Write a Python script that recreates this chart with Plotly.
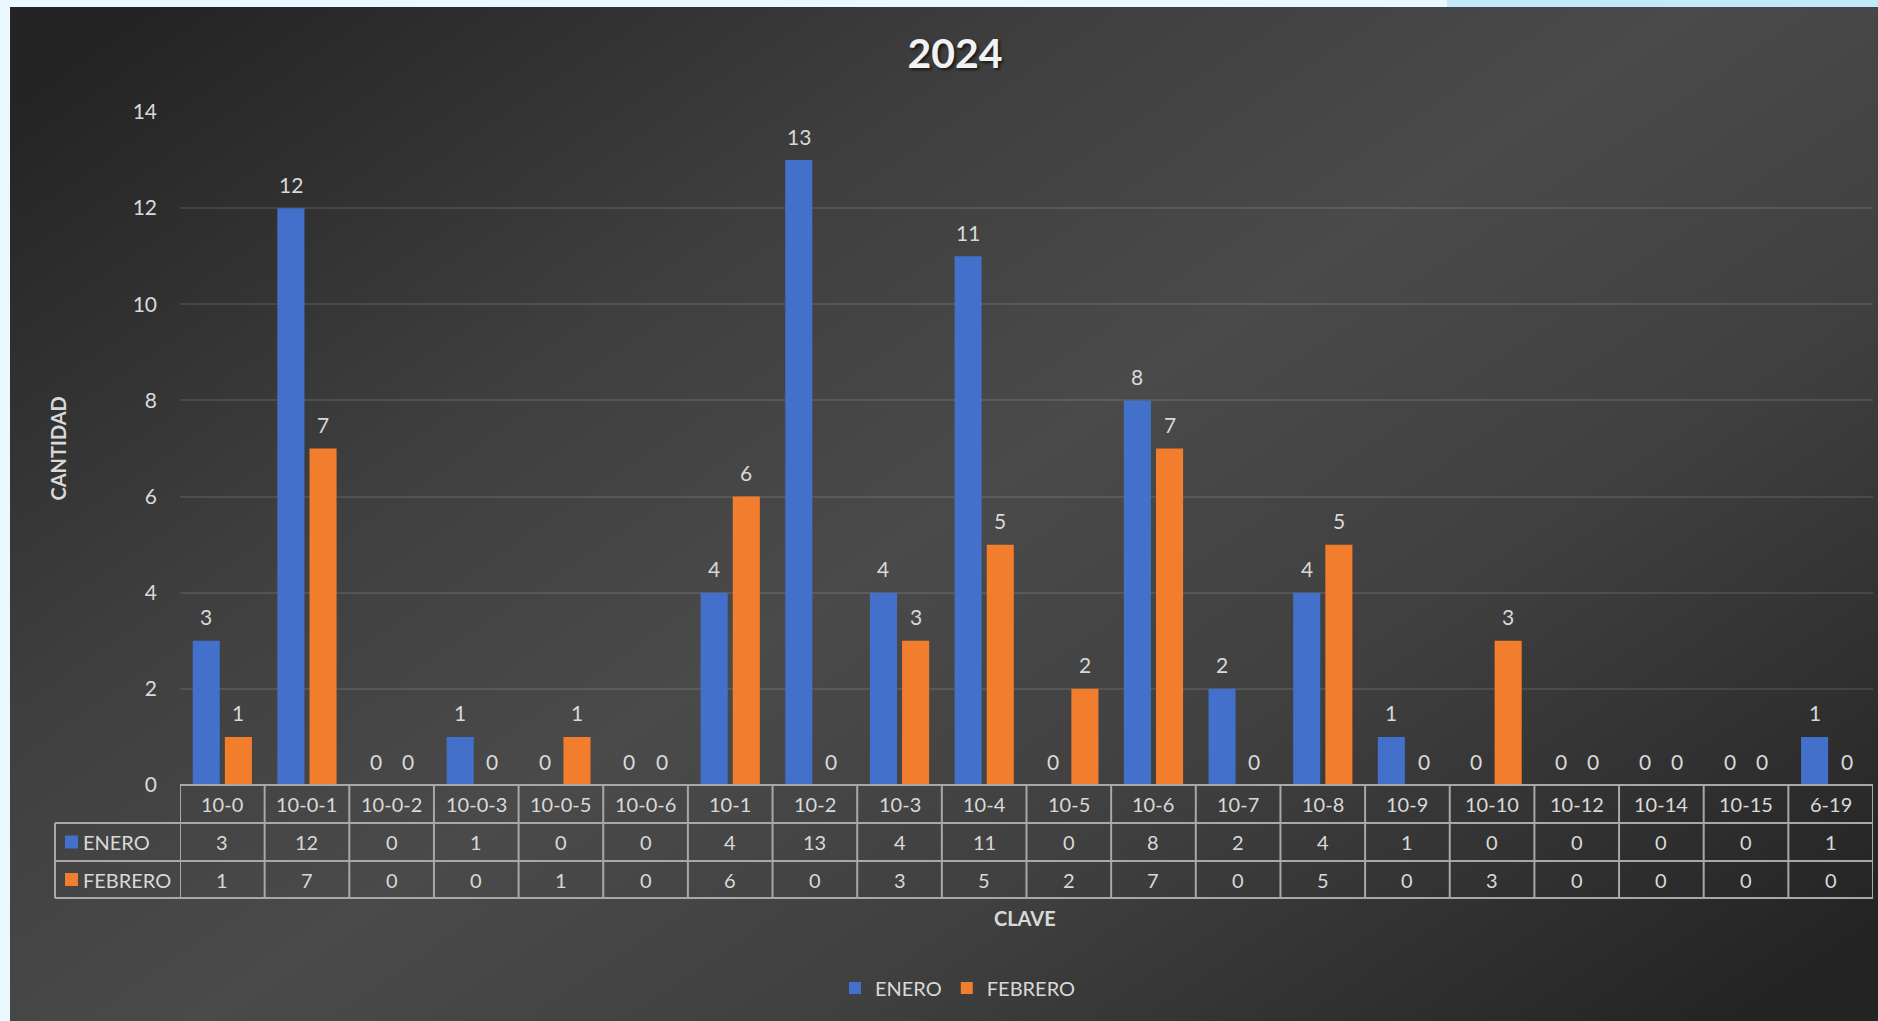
import base64
import plotly.graph_objects as go

# data
claves = ['10-0', '10-0-1', '10-0-2', '10-0-3', '10-0-5', '10-0-6', '10-1', '10-2', '10-3', '10-4',
          '10-5', '10-6', '10-7', '10-8', '10-9', '10-10', '10-12', '10-14', '10-15', '6-19']
enero = [3, 12, 0, 1, 0, 0, 4, 13, 4, 11, 0, 8, 2, 4, 1, 0, 0, 0, 0, 1]
febrero = [1, 7, 0, 0, 1, 0, 6, 0, 3, 5, 2, 7, 0, 5, 0, 3, 0, 0, 0, 0]
series_names = ['ENERO', 'FEBRERO']
y_ticks = [0, 2, 4, 6, 8, 10, 12, 14]

BLUE = '#4370ca'
ORANGE = '#f27d2d'
TEXT = '#d9d9d9'
LINE = '#a8a8a8'
FONT = 'Lato'

# page geometry (px)
W, H = 1878, 1021
L, R, T, B = 180, 5, 112, 236
PW, PH = W - L - R, H - T - B


def px(x):
    return (x - L) / PW


def py(y):
    return (H - B - y) / PH


BAR_W = 0.32
OFFSETS = [-0.35, 0.03]

fig = go.Figure()
for name, vals, color, off in zip(series_names, [enero, febrero], [BLUE, ORANGE], OFFSETS):
    fig.add_trace(go.Bar(
        x=list(range(len(claves))),
        y=vals,
        name=name,
        width=BAR_W,
        offset=off,
        marker=dict(color=color, line=dict(width=0)),
        customdata=claves,
        hovertemplate='%{customdata}: %{y}<extra>' + name + '</extra>',
    ))

annotations = []
# value labels above the bars
for vals, off in zip([enero, febrero], OFFSETS):
    for i, v in enumerate(vals):
        annotations.append(dict(
            x=i + off + BAR_W / 2, y=v, xref='x', yref='y', text=str(v),
            showarrow=False, yshift=24, yanchor='middle',
            font=dict(family=FONT, size=21, color=TEXT)))

# data table under the plot
row_mid = [py(804), py(842), py(879.5)]
for i, c in enumerate(claves):
    annotations.append(dict(x=i, y=row_mid[0], xref='x', yref='paper', text=c, showarrow=False,
                            xanchor='center', yanchor='middle',
                            font=dict(family=FONT, size=20, color=TEXT)))
    for r, vals in enumerate([enero, febrero]):
        annotations.append(dict(x=i, y=row_mid[r + 1], xref='x', yref='paper', text=str(vals[i]),
                                showarrow=False, xanchor='center', yanchor='middle',
                                font=dict(family=FONT, size=20, color=TEXT)))

shapes = []
for r, (name, color) in enumerate(zip(series_names, [BLUE, ORANGE])):
    annotations.append(dict(x=px(81), y=row_mid[r + 1], xref='paper', yref='paper', text=name,
                            showarrow=False, xanchor='left', yanchor='middle',
                            font=dict(family=FONT, size=20, color=TEXT)))
    shapes.append(dict(type='rect', xref='paper', yref='paper', x0=px(65), x1=px(78),
                       y0=row_mid[r + 1] - 6.5 / PH, y1=row_mid[r + 1] + 6.5 / PH,
                       fillcolor=color, line=dict(width=0)))

line_style = dict(color=LINE, width=2)
shapes.append(dict(type='line', xref='paper', yref='paper', x0=0, x1=1, y0=0, y1=0, line=line_style))
for yy in [823, 861, 898]:
    shapes.append(dict(type='line', xref='paper', yref='paper', x0=px(55), x1=1,
                       y0=py(yy), y1=py(yy), line=line_style))
for i in range(len(claves) + 1):
    shapes.append(dict(type='line', xref='x', yref='paper', x0=i - 0.5, x1=i - 0.5,
                       y0=0, y1=py(898), line=line_style))
shapes.append(dict(type='line', xref='paper', yref='paper', x0=px(55), x1=px(55),
                   y0=py(823), y1=py(898), line=line_style))

# light strip along the top edge of the screenshot
shapes.append(dict(type='rect', xref='paper', yref='paper', x0=px(1447), x1=px(W),
                   y0=py(0), y1=py(7), fillcolor='#c4eaf9', line=dict(width=0), layer='below'))

# axis titles
annotations.append(dict(x=px(57), y=0.5, xref='paper', yref='paper', text='<b>CANTIDAD</b>',
                        textangle=-90, showarrow=False, xanchor='center', yanchor='middle',
                        font=dict(family=FONT, size=20, color=TEXT)))
annotations.append(dict(x=px(1025), y=py(918), xref='paper', yref='paper', text='<b>CLAVE</b>',
                        showarrow=False, xanchor='center', yanchor='middle',
                        font=dict(family=FONT, size=20, color=TEXT)))

# dark gradient background of the chart
svg = ('<svg xmlns="http://www.w3.org/2000/svg" viewBox="0 0 100 100" preserveAspectRatio="none" '
       'width="100" height="100"><defs><linearGradient id="g" x1="0" y1="0.1" x2="1" y2="0.9">'
       '<stop offset="0" stop-color="#242424"/><stop offset="0.3" stop-color="#3f3f3f"/>'
       '<stop offset="0.5" stop-color="#4a4a4a"/><stop offset="0.7" stop-color="#404040"/>'
       '<stop offset="1" stop-color="#242424"/></linearGradient></defs>'
       '<rect width="100" height="100" fill="url(#g)"/></svg>')
bg_src = 'data:image/svg+xml;base64,' + base64.b64encode(svg.encode()).decode()

fig.update_layout(
    width=W,
    height=H,
    margin=dict(l=L, r=R, t=T, b=B, autoexpand=False),
    paper_bgcolor='#ebf8ff',
    plot_bgcolor='rgba(0,0,0,0)',
    barmode='overlay',
    title=dict(text='<b>2024</b>', x=px(955), xanchor='center', xref='paper',
               y=1 - 54 / H, yanchor='middle',
               font=dict(family=FONT, size=41, color='#f2f2f2', shadow='2px 2px 3px rgba(0,0,0,0.6)')),
    xaxis=dict(range=[-0.5, len(claves) - 0.5], showticklabels=False, showgrid=False,
               zeroline=False, showline=False, fixedrange=True),
    yaxis=dict(range=[0, 14], tickvals=y_ticks, showgrid=True, gridcolor='rgba(255,255,255,0.1)',
               gridwidth=2, zeroline=False, showline=False, ticklabelstandoff=22,
               tickfont=dict(family=FONT, size=21, color=TEXT), fixedrange=True),
    legend=dict(orientation='h', x=px(958), xanchor='center', y=py(988), yanchor='middle',
                font=dict(family=FONT, size=20, color=TEXT), bgcolor='rgba(0,0,0,0)',
                itemwidth=30, traceorder='normal'),
    images=[dict(source=bg_src, xref='paper', yref='paper', x=px(10), y=py(7),
                 sizex=(W - 10) / PW, sizey=(H - 7) / PH, xanchor='left', yanchor='top',
                 sizing='stretch', layer='below')],
    shapes=shapes,
    annotations=annotations,
    showlegend=True,
)

# drop the browser's default body margin so the figure fills the window
fig.write_html("out.html", config={'displayModeBar': False},
               post_script="document.body.style.margin='0';")
